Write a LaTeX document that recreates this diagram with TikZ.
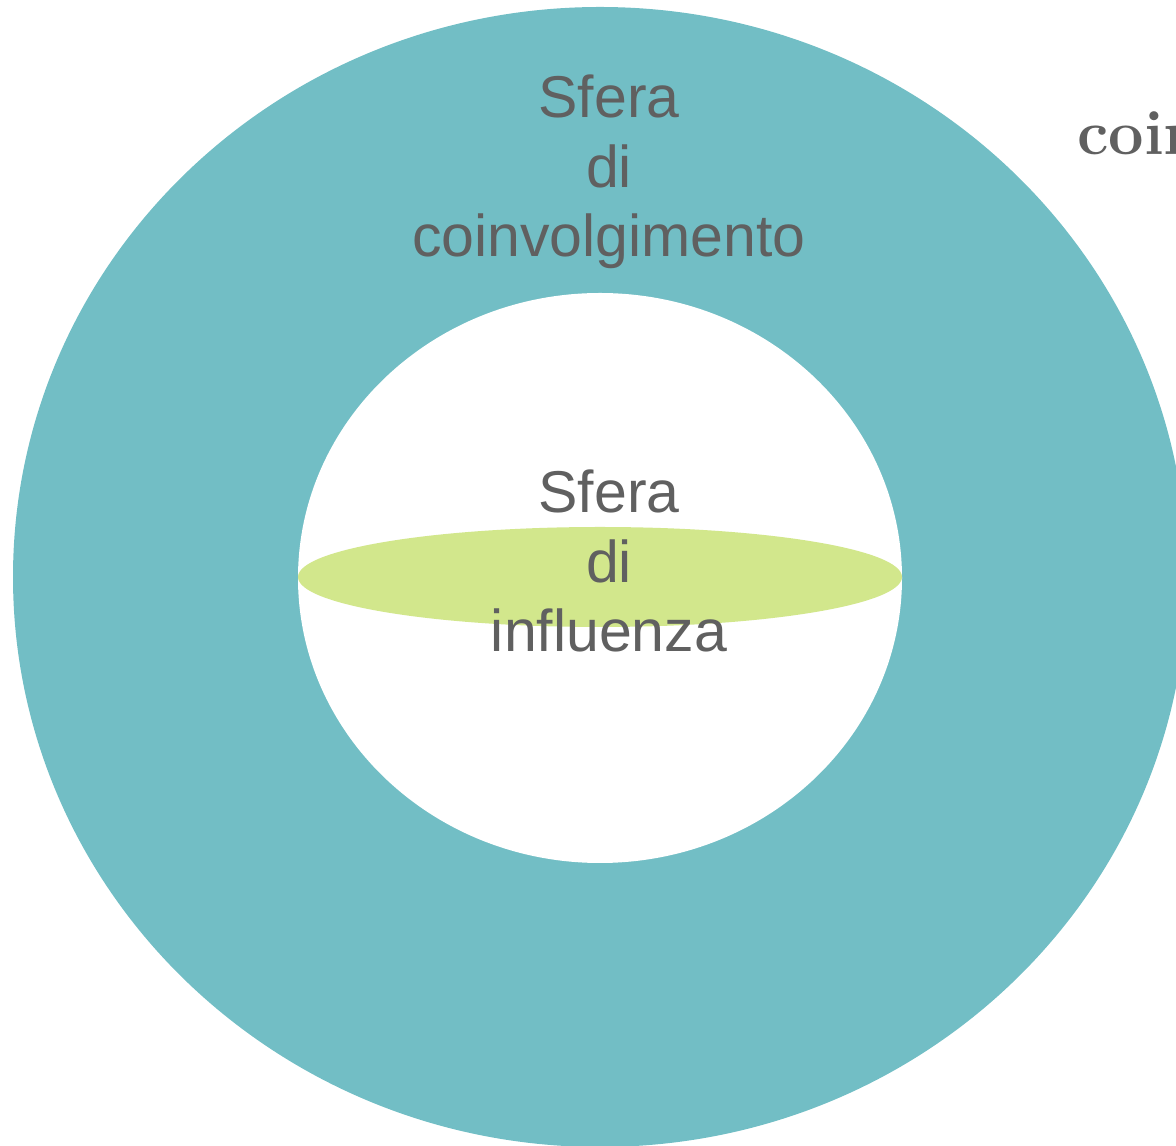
\documentclass[tikz,border=0pt]{standalone}
\usepackage{fontspec}
\newfontfamily\labelfont{Liberation Sans}
\usetikzlibrary{shapes.geometric}
\definecolor{teal}{HTML}{72BEC5}
\definecolor{lime}{HTML}{D2E78C}
\definecolor{txtgray}{HTML}{606060}
\tikzset{
  sphere/.style={ellipse, inner sep=0pt, draw=none},
  spherelabel/.style={align=center, inner sep=0pt, text=txtgray,
    font=\labelfont\fontsize{59}{69.5}\selectfont},
}
\begin{document}
\begin{tikzpicture}[x=1pt,y=1pt]
\useasboundingbox (0,0) rectangle (1176,1146);
\clip (0,0) rectangle (1176,1146);
\node[sphere, fill=teal, minimum width=1174pt, minimum height=1140pt] (outer) at (600,569) {};
\node[sphere, fill=white, minimum width=604pt, minimum height=570pt] (inner) at (600,568) {};
\node[sphere, fill=lime, minimum width=604pt, minimum height=100pt] (disc) at (600,569) {};
\node[spherelabel, anchor=base] (outerlabel) at (609,889) {Sfera\\di\\coinvolgimento};
\node[spherelabel, anchor=base] (innerlabel) at (609,494) {Sfera\\di\\influenza};
\node[anchor=base west, inner sep=0pt, text=txtgray,
  font=\bfseries\fontsize{63}{70}\selectfont] (sidelabel) at (1077,991) {coinvolgimento};
\end{tikzpicture}
\end{document}
